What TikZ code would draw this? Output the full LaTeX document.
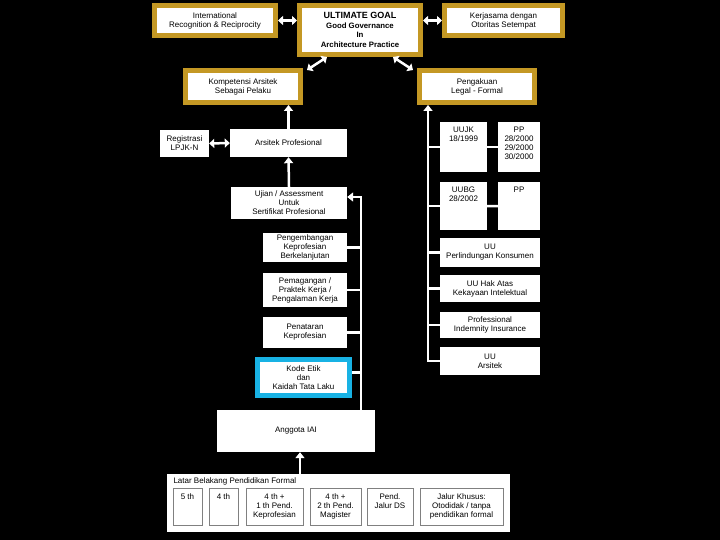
\documentclass[tikz,border=0pt]{standalone}
\usepackage{fontspec}
\setmainfont{Liberation Sans}
\usepackage{xcolor}
\usepackage{tikz}
\usetikzlibrary{arrows.meta}

\definecolor{goldframe}{RGB}{196,152,36}
\definecolor{cyanframe}{RGB}{24,178,228}

\begin{document}
\begin{tikzpicture}[x=1pt,y=-1pt,
  txt/.style={font=\fontsize{8}{9}\selectfont, align=center, text=black},
  goldbox/.style={txt, draw=goldframe, line width=5pt, fill=white, inner sep=1pt},
  whitebox/.style={txt, fill=white, inner sep=1pt},
  topbox/.style={whitebox, anchor=north, inner ysep=5pt, text depth=#1},
  schoolbox/.style={topbox=#1, draw=gray, line width=0.6pt},
  link/.style={white, line width=2.5pt},
  arr/.style={link, -{Triangle[length=6pt,width=9pt]}},
  dblarr/.style={link, {Triangle[length=5pt,width=9pt]}-{Triangle[length=5pt,width=9pt]}}
]
\useasboundingbox (0,0) rectangle (720,540);
\fill[black] (0,0) rectangle (720,540);
% goals on top
\node[goldbox, minimum width=121pt, minimum height=30pt] (intl) at (215,20.5) {International\\Recognition \& Reciprocity};
\node[goldbox, font=\fontsize{7.8}{9.5}\selectfont\bfseries, minimum width=121pt, minimum height=49pt] (goal) at (360,30) {{\fontsize{9}{10}\selectfont ULTIMATE GOAL}\\Good Governance\\In\\Architecture Practice};
\node[goldbox, minimum width=118pt, minimum height=30pt] (kerja) at (503.5,20.5) {Kerjasama dengan\\Otoritas Setempat};
\node[goldbox, minimum width=115pt, minimum height=32pt] (komp) at (243,86.5) {Kompetensi Arsitek\\Sebagai Pelaku};
\node[goldbox, minimum width=115pt, minimum height=32pt] (legal) at (477,86.5) {Pengakuan\\Legal - Formal};
\draw[dblarr] (intl.east) -- (intl.east -| goal.west);
\draw[dblarr] (goal.east |- kerja.west) -- (kerja.west);
\draw[dblarr] ([xshift=30pt]goal.south west) -- ([xshift=4pt,yshift=-2pt]komp.north east);
\draw[dblarr] ([xshift=-30pt]goal.south east) -- ([xshift=-4pt,yshift=-2pt]legal.north west);
% competence column
\node[whitebox, minimum width=49pt, minimum height=27pt] (lpjk) at (184.5,143.5) {Registrasi\\LPJK-N};
\node[whitebox, minimum width=117pt, minimum height=28pt] (arsitek) at (288.5,143) {Arsitek Profesional};
\node[whitebox, minimum width=116pt, minimum height=32pt] (ujian) at (289,203) {Ujian / Assessment\\Untuk\\Sertifikat Profesional};
\node[whitebox, minimum width=84pt, minimum height=29pt] (kpb) at (305,247.5) {Pengembangan\\Keprofesian\\Berkelanjutan};
\node[whitebox, minimum width=84pt, minimum height=34pt] (magang) at (305,290) {Pemagangan /\\Praktek Kerja /\\Pengalaman Kerja};
\node[whitebox, minimum width=84pt, minimum height=31pt] (penataran) at (305,332.5) {Penataran\\Keprofesian};
\node[whitebox, draw=cyanframe, line width=5pt, minimum width=92pt, minimum height=36pt] (kode) at (303.5,377.5) {Kode Etik\\dan\\Kaidah Tata Laku};
\node[whitebox, minimum width=158pt, minimum height=42pt] (anggota) at (296,431) {Anggota IAI};
\draw[dblarr] (lpjk.east) -- (arsitek.west);
\draw[arr] (arsitek.north) -- (arsitek.north |- komp.south);
\draw[arr] (ujian.north) -- (arsitek.south);
\coordinate (lspine) at (361,197);
\draw[arr] (anggota.north -| lspine) -- (lspine) -- (lspine -| ujian.east);
\foreach \b in {kpb,magang,penataran}
  \draw[link] (\b.east) -- (\b.east -| lspine);
\draw[link] ([yshift=5pt]kode.east) -- ([yshift=5pt]kode.east -| lspine);
% formal education
\node[whitebox, minimum width=343pt, minimum height=58pt] (latar) at (338.5,503) {};
\node[txt, anchor=west] (latarjudul) at (170,481) {Latar Belakang Pendidikan Formal};
\node[schoolbox=21.3pt, minimum width=29pt] (th5) at (187.5,488) {5 th};
\node[schoolbox=21.3pt, minimum width=29pt] (th4) at (223.5,488) {4 th};
\node[schoolbox=3.3pt, minimum width=57pt] (thkep) at (274.5,488) {4 th +\\1 th Pend.\\Keprofesian};
\node[schoolbox=3.3pt, minimum width=51pt] (thmag) at (335.5,488) {4 th +\\2 th Pend.\\Magister};
\node[schoolbox=12.3pt, minimum width=46pt] (ds) at (390,488) {Pend.\\Jalur DS};
\node[schoolbox=3.3pt, minimum width=83pt] (khusus) at (461.5,488) {Jalur Khusus:\\Otodidak / tanpa\\pendidikan formal};
\coordinate (eduarrow) at (300,0);
\draw[arr] (latar.north -| eduarrow) -- (anggota.south -| eduarrow);
% legal column
\node[topbox=25.3pt, minimum width=47pt] (uujk) at (463.5,122) {UUJK\\18/1999};
\node[topbox=7.3pt, minimum width=42pt] (pp1) at (519,122) {PP\\28/2000\\29/2000\\30/2000};
\node[topbox=23.3pt, minimum width=47pt] (uubg) at (463.5,182) {UUBG\\28/2002};
\node[topbox=32.3pt, minimum width=42pt] (pp2) at (519,182) {PP};
\node[whitebox, minimum width=100pt, minimum height=29pt] (konsumen) at (490,252.5) {UU\\Perlindungan Konsumen};
\node[whitebox, minimum width=100pt, minimum height=27pt] (haki) at (490,288.5) {UU Hak Atas\\Kekayaan Intelektual};
\node[whitebox, minimum width=100pt, minimum height=26pt] (pii) at (490,325) {Professional\\Indemnity Insurance};
\node[whitebox, minimum width=100pt, minimum height=28pt] (uuars) at (490,361) {UU\\Arsitek};
\coordinate (rspine) at (428,0);
\draw[arr] (uuars.west) -- (uuars.west -| rspine) -- (legal.south -| rspine);
\foreach \b in {uujk,uubg,konsumen,haki,pii}
  \draw[link] (\b.west -| rspine) -- (\b.west);
\draw[link] (uujk.east) -- (pp1.west);
\draw[link] (uubg.east) -- (pp2.west);
\end{tikzpicture}
\end{document}
